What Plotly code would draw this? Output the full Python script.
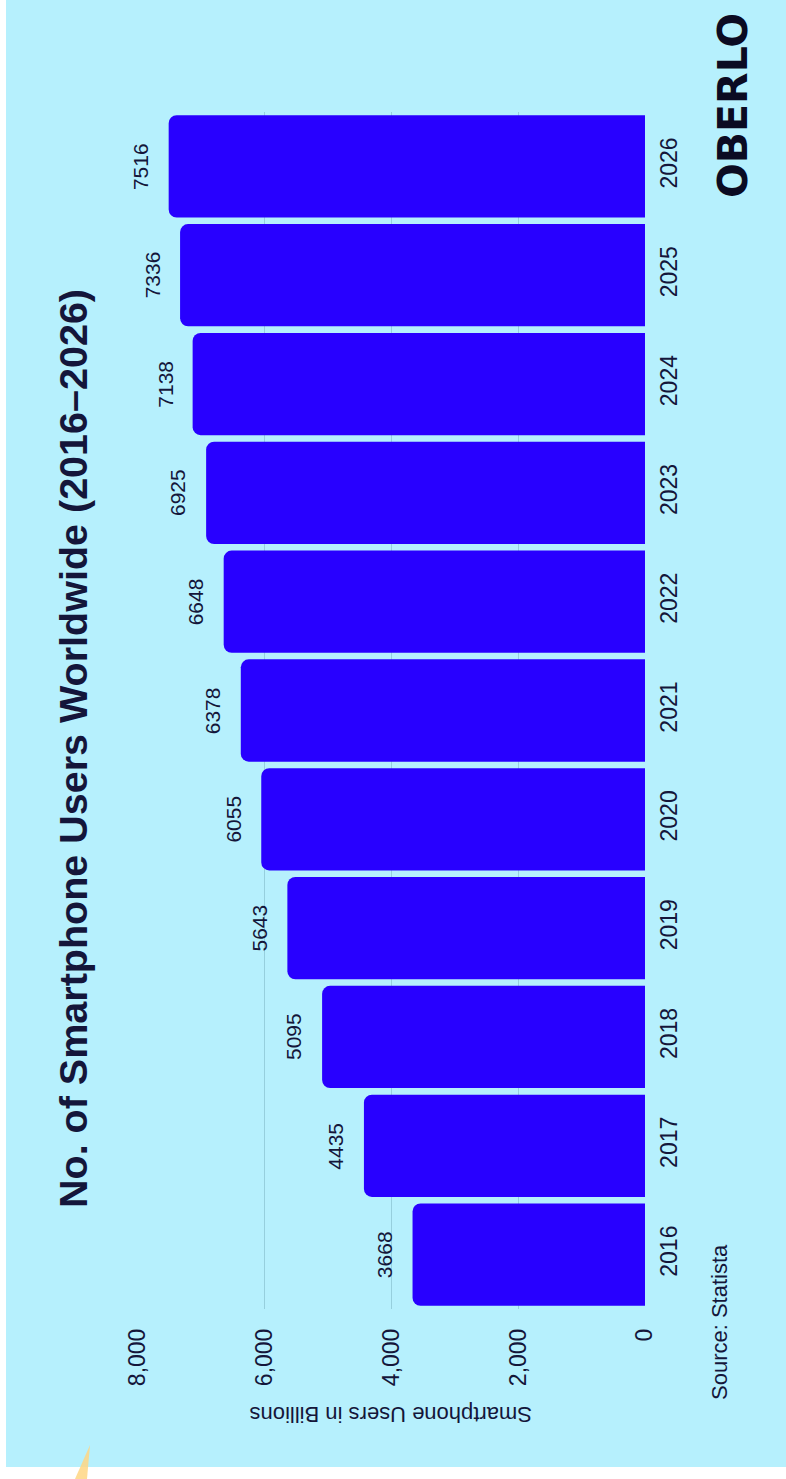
import plotly.graph_objects as go

years = ["2016", "2017", "2018", "2019", "2020", "2021", "2022", "2023", "2024", "2025", "2026"]
users = [3668, 4435, 5095, 5643, 6055, 6378, 6648, 6925, 7138, 7336, 7516]
value_ticks = [0, 2000, 4000, 6000, 8000]

BG = "#b6f0fd"
BAR = "#2800ff"
INK = "#14163a"
GRID = "#96cfdd"

W, H = 786, 1479
L, R, T, B = 138, 141, 112, 170
PW, PH = W - L - R, H - T - B

def px_to_paper(x, y):
    return (x - L) / PW, (H - B - y) / PH

fig = go.Figure()
fig.add_trace(go.Bar(
    x=users, y=years, orientation="h",
    marker=dict(color=BAR, line=dict(width=0)),
    hoverinfo="x+y",
))

for i, v in enumerate(users):
    fig.add_annotation(
        x=v, y=i, xref="x", yref="y", text=str(v), showarrow=False,
        textangle=-90, xshift=-28, xanchor="center", yanchor="middle",
        font=dict(family="Liberation Sans, Arial, sans-serif", size=21, color=INK),
    )

tx, ty = px_to_paper(73, 749)
fig.add_annotation(
    x=tx, y=ty, xref="paper", yref="paper", showarrow=False, textangle=-90,
    text="<b>No. of Smartphone Users Worldwide (2016–2026)</b>",
    xanchor="center", yanchor="middle",
    font=dict(family="Liberation Sans, Arial, sans-serif", size=39.5, color=INK),
)

ax, ay = px_to_paper(391, 1415)
fig.add_annotation(
    x=ax, y=ay, xref="paper", yref="paper", showarrow=False, textangle=180,
    text="Smartphone Users in Billions", xanchor="center", yanchor="middle",
    font=dict(family="Liberation Sans, Arial, sans-serif", size=22, color=INK),
)

sx, sy = px_to_paper(719, 1322)
fig.add_annotation(
    x=sx, y=sy, xref="paper", yref="paper", showarrow=False, textangle=-90,
    text="Source: Statista", xanchor="center", yanchor="middle",
    font=dict(family="Liberation Sans, Arial, sans-serif", size=22, color=INK),
)

ox, oy = px_to_paper(733, 106)
fig.add_annotation(
    x=ox, y=oy, xref="paper", yref="paper", showarrow=False, textangle=-90,
    text="<b>OBERLO</b>", xanchor="center", yanchor="middle",
    font=dict(family="DejaVu Sans, sans-serif", size=41, color="#0b0b22"),
)

# white edges and yellow sliver of the photographed page
x0, y0 = px_to_paper(0, 1467)
x1, y1 = px_to_paper(W, H)
fig.add_shape(type="rect", xref="paper", yref="paper", x0=x0, x1=x1, y0=y1, y1=y0,
              fillcolor="white", line=dict(width=0), layer="below")
xa, ya = px_to_paper(0, 0)
xb, _ = px_to_paper(6, 0)
fig.add_shape(type="rect", xref="paper", yref="paper", x0=xa, x1=xb, y0=y1, y1=ya,
              fillcolor="white", line=dict(width=0), layer="below")
p1 = px_to_paper(90, 1445)
p2 = px_to_paper(87, H)
p3 = px_to_paper(75, H)
fig.add_shape(type="path", xref="paper", yref="paper",
              path=f"M {p1[0]} {p1[1]} L {p2[0]} {p2[1]} L {p3[0]} {p3[1]} Z",
              fillcolor="rgba(255,214,130,0.85)", line=dict(width=0))

fig.update_layout(
    width=W, height=H,
    margin=dict(l=L, r=R, t=T, b=B, pad=0),
    paper_bgcolor=BG, plot_bgcolor=BG,
    showlegend=False,
    bargap=0.06,
    barcornerradius=8,
    xaxis=dict(
        range=[8000, 0], tickvals=value_ticks, tickformat=",",
        tickangle=-90, showgrid=True, gridcolor=GRID, gridwidth=1.2,
        zeroline=False, showline=False, ticks="", ticklabelstandoff=14,
        tickfont=dict(family="Liberation Sans, Arial, sans-serif", size=23, color=INK),
    ),
    yaxis=dict(
        side="right", type="category", categoryorder="array", categoryarray=years,
        range=[-0.5, len(years) - 0.5], tickangle=-90, showgrid=False,
        zeroline=False, showline=False, ticks="", ticklabelstandoff=8,
        tickfont=dict(family="Liberation Sans, Arial, sans-serif", size=23, color=INK),
    ),
)

fig.write_html("out.html", config={"displayModeBar": False},
               post_script="document.body.style.margin='0';document.body.style.overflow='hidden';")
